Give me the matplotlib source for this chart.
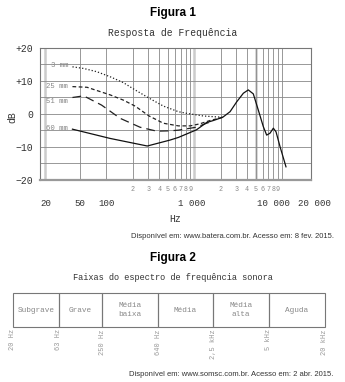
import numpy as np
import matplotlib.pyplot as plt
from matplotlib.transforms import ScaledTranslation

mono = 'Liberation Mono'
sans = 'Liberation Sans'

# Figura 1: resposta de frequência do microfone por distância
freq_3mm = [41, 55, 78, 110, 156, 212, 306, 445, 660, 820, 1270, 2110]
db_3mm = [14.3, 13.8, 12.8, 11.3, 9.5, 7.3, 4.8, 2.4, 0.7, 0.2, -0.6, -1.0]

freq_25mm = [41, 60, 110, 156, 212, 306, 445, 660, 900, 1150, 1500, 2110]
db_25mm = [8.3, 8.1, 5.8, 4.2, 2.4, -0.6, -2.8, -3.6, -3.6, -3.0, -2.0, -1.0]

freq_51mm = [41, 55, 88, 143, 241, 374, 530, 660, 1060, 1380, 1640]
db_51mm = [5.0, 5.5, 2.7, -1.3, -4.0, -5.2, -5.1, -4.9, -4.0, -2.8, -2.2]

freq_60mm = [41, 110, 292, 530, 660, 1060, 1380, 1640, 2110, 2560, 3050,
             3630, 4130, 4710, 5370, 6120, 6690, 7310, 7970, 8550, 9500, 11100]
db_60mm = [-4.6, -7.4, -9.7, -7.9, -7.1, -4.8, -2.6, -2.0, -1.0, 0.7, 3.7,
           6.3, 7.3, 6.1, 1.2, -3.8, -6.4, -5.8, -4.3, -5.4, -9.9, -16.0]

curve_labels = ['3 mm', '25 mm', '51 mm', '60 mm']

x_major = [20, 50, 100, 1000, 10000, 20000]
x_major_labels = ['20', '50', '100', '1 000', '10 000', '20 000']
x_minor = [200, 300, 400, 500, 600, 700, 800, 900,
           2000, 3000, 4000, 5000, 6000, 7000, 8000, 9000]
x_minor_labels = ['2', '3', '4', '5', '6', '7', '8', '9'] * 2
y_ticks = [-20, -10, 0, 10, 20]
y_tick_labels = ['\u221220', '\u221210', '0', '+10', '+20']

# Figura 2: faixas do espectro sonoro
bands = ['Subgrave', 'Grave', 'Média\nbaixa', 'Média', 'Média\nalta', 'Aguda']
band_edges = ['20 Hz', '63 Hz', '250 Hz', '640 Hz', '2,5 kHz', '5 kHz', '20 kHz']

W, H = 345, 382
fig = plt.figure(figsize=(W / 100, H / 100), dpi=100)

fig.text(0.5, 1 - 13 / H, 'Figura 1', ha='center', va='center',
         fontsize=8.5, fontweight='bold', family=sans)
fig.text(0.5, 1 - 33 / H, 'Resposta de Frequência', ha='center', va='center',
         fontsize=7, family=mono, color='#333333')

ax = fig.add_axes([40 / W, 1 - 180 / H, 271 / W, 132 / H])
ax.set_xscale('log')
ax.set_xlim(17.5, 21400)
ax.set_ylim(-20, 20)

# grade
for f in [50, 100] + x_minor + [10000]:
    ax.axvline(f, color='#888888', lw=0.6, zorder=1)
for f in [20, 1000, 5000]:
    ax.axvline(f, color='#cccccc', lw=1.8, zorder=0.5)
for v in range(-15, 20, 5):
    ax.axhline(v, color='#888888', lw=0.6, zorder=1)

lw = 0.9
ax.plot(freq_3mm, db_3mm, color='#222222', lw=lw, dashes=(1, 1.6), zorder=3)
ax.plot(freq_25mm, db_25mm, color='#222222', lw=lw, dashes=(3, 2), zorder=3)
ax.plot(freq_51mm, db_51mm, color='#222222', lw=lw, dashes=(7, 4), zorder=3)
ax.plot(freq_60mm, db_60mm, color='#111111', lw=lw, zorder=4)

starts = [db_3mm[0], db_25mm[0], db_51mm[0], db_60mm[0]]
nudges = [0.5, 0.0, -1.2, 0.3]
for name, y0, dy in zip(curve_labels, starts, nudges):
    ax.annotate(name, (freq_3mm[0], y0 + dy), xytext=(-3, 0),
                textcoords='offset points', ha='right', va='center',
                fontsize=5.2, family=mono, color='#888888')

ax.set_yticks(y_ticks)
ax.set_yticklabels(y_tick_labels, family=mono, fontsize=7, color='#333333')
ax.set_xticks(x_major)
ax.set_xticklabels(x_major_labels, family=mono, fontsize=6.6, color='#333333')
ax.set_xticks(x_minor, minor=True)
ax.set_xticklabels(x_minor_labels, minor=True, family=mono, fontsize=4.8,
                   color='#888888')
ax.tick_params(axis='both', which='both', length=0)
ax.tick_params(axis='y', pad=5)
ax.tick_params(axis='x', which='minor', pad=4)
ax.tick_params(axis='x', which='major', pad=14)

label_shift = [1, 0, 0, -2, -8, 6]
for lab, dx in zip(ax.get_xticklabels(), label_shift):
    lab.set_transform(lab.get_transform() +
                      ScaledTranslation(dx / 100, 0, fig.dpi_scale_trans))

ax.set_xlabel('Hz', family=mono, fontsize=7, color='#333333', labelpad=4)
fig.text(12 / W, 1 - 117 / H, 'dB', rotation=90, ha='center', va='center',
         family=mono, fontsize=7, color='#333333')
for side in ax.spines:
    ax.spines[side].set_color('#777777')
    ax.spines[side].set_linewidth(0.8)
ax.spines['bottom'].set_linewidth(1.6)
ax.spines['bottom'].set_color('#999999')

fig.text(334 / W, 1 - 237 / H,
         'Disponível em: www.batera.com.br. Acesso em: 8 fev. 2015.',
         ha='right', va='center', fontsize=5.5, family=sans, color='#333333')

fig.text(0.5, 1 - 258 / H, 'Figura 2', ha='center', va='center',
         fontsize=8.5, fontweight='bold', family=sans)
fig.text(0.5, 1 - 278 / H, 'Faixas do espectro de frequência sonora',
         ha='center', va='center', fontsize=6.2, family=mono, color='#333333')

cell_w = np.array([46, 43, 56, 55, 56, 56])
lefts = np.concatenate([[0], np.cumsum(cell_w)[:-1]])
ax2 = fig.add_axes([13 / W, 1 - 327 / H, 312 / W, 34 / H])
ax2.bar(lefts, 1, width=cell_w, align='edge', fill=False,
        edgecolor='#777777', linewidth=0.8, clip_on=False)
ax2.set_xlim(0, cell_w.sum())
ax2.set_ylim(0, 1)
ax2.axis('off')
for x0, w, name in zip(lefts, cell_w, bands):
    ax2.text(x0 + w / 2, 0.5, name, ha='center', va='center', fontsize=5.6,
             family=mono, color='#888888', linespacing=1.5)
edges = np.concatenate([[0], np.cumsum(cell_w)])
for x0, name in zip(edges, band_edges):
    ax2.text(x0, -0.06, name, rotation=90, ha='center', va='top',
             fontsize=5, family=mono, color='#999999')

fig.text(333 / W, 1 - 375 / H,
         'Disponível em: www.somsc.com.br. Acesso em: 2 abr. 2015.',
         ha='right', va='center', fontsize=5.5, family=sans, color='#333333')

fig.savefig('out.png', dpi=100)
